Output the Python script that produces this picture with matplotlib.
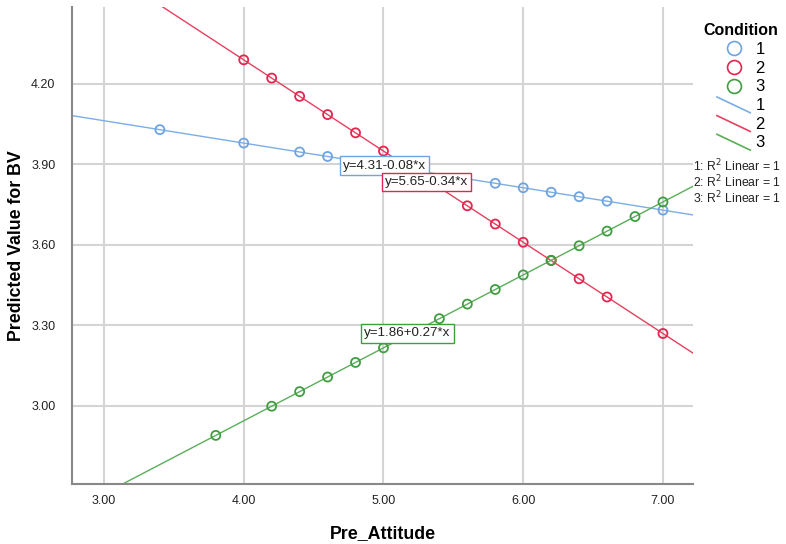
import numpy as np
import matplotlib
matplotlib.use("Agg")
import matplotlib.pyplot as plt
from matplotlib.lines import Line2D
from matplotlib.legend_handler import HandlerLine2D

plt.rcParams['font.family'] = ['Liberation Sans', 'DejaVu Sans']

# Dati
conditions = ["1", "2", "3"]
x_cond1 = [3.4, 4.0, 4.4, 4.6, 5.8, 6.0, 6.2, 6.4, 6.6, 7.0]
x_cond2 = [4.0, 4.2, 4.4, 4.6, 4.8, 5.0, 5.6, 5.8, 6.0, 6.2, 6.4, 6.6, 7.0]
x_cond3 = [3.8, 4.2, 4.4, 4.6, 4.8, 5.0, 5.4, 5.6, 5.8, 6.0, 6.2, 6.4, 6.6, 6.8, 7.0]
intercepts = [4.313, 5.65, 1.857]
slopes = [-0.0833, -0.34, 0.2719]
eq_labels = ["y=4.31-0.08*x", "y=5.65-0.34*x", "y=1.86+0.27*x"]
label_pos = [(4.71, 3.895), (5.01, 3.835), (4.86, 3.27)]
xticks = [3.0, 4.0, 5.0, 6.0, 7.0]
yticks = [3.00, 3.30, 3.60, 3.90, 4.20]

colors = ["#6fa4e0", "#e3264f", "#3f9e3f"]
line_colors = ["#7aaee6", "#e6405f", "#5aae5a"]


class DiagonalHandler(HandlerLine2D):
    def create_artists(self, legend, orig_handle, xdescent, ydescent,
                       width, height, fontsize, trans):
        line = Line2D([-xdescent, width - xdescent],
                      [height - ydescent + 1, -ydescent - 2],
                      color=orig_handle.get_color(), lw=1.2)
        line.set_transform(trans)
        return [line]


fig = plt.figure(figsize=(7.86, 5.44), dpi=100)
ax = fig.add_axes([72 / 786, 1 - 484 / 544, 621 / 786, 477 / 544])

xmin, xmax = 2.771, 7.215
ax.set_xlim(xmin, xmax)
ax.set_ylim(2.709, 4.487)

xs_all = [x_cond1, x_cond2, x_cond3]
xx = np.array([xmin, xmax])
for i in range(3):
    xs = np.array(xs_all[i])
    ys = intercepts[i] + slopes[i] * xs
    ax.plot(xx, intercepts[i] + slopes[i] * xx, color=line_colors[i], lw=1.0, zorder=2)
    ax.scatter(xs, ys, s=42, facecolors="none", edgecolors=colors[i],
               linewidths=1.3, zorder=3)

for i in range(3):
    ax.text(label_pos[i][0], label_pos[i][1], eq_labels[i], fontsize=9.6,
            color="#222222", ha="left", va="center", zorder=5,
            bbox=dict(boxstyle="square,pad=0.25", facecolor="white",
                      edgecolor=colors[i], linewidth=1.0))

ax.set_xticks(xticks)
ax.set_xticklabels([f"{v:.2f}" for v in xticks])
ax.set_yticks(yticks)
ax.set_yticklabels([f"{v:.2f}" for v in yticks])
ax.tick_params(length=0, labelsize=9, colors="#222222")
ax.tick_params(axis="x", pad=8)
ax.tick_params(axis="y", pad=12)
ax.grid(True, color="#d4d4d4", lw=1.5)
ax.set_axisbelow(True)
for s in ["top", "right"]:
    ax.spines[s].set_visible(False)
for s in ["left", "bottom"]:
    ax.spines[s].set_color("#888888")
    ax.spines[s].set_linewidth(1.5)

ax.set_xlabel("Pre_Attitude", fontsize=12.8, fontweight="bold", labelpad=13)
ax.set_ylabel("Predicted Value for BV", fontsize=12.8, fontweight="bold")
ax.yaxis.set_label_coords(-0.076, 0.5)

# Legenda
handles = []
labels = []
for i in range(3):
    handles.append(Line2D([], [], ls="none", marker="o", ms=10, mfc="none",
                          mec=colors[i], mew=1.2))
    labels.append(conditions[i])
line_handles = []
for i in range(3):
    h = Line2D([], [], color=line_colors[i])
    line_handles.append(h)
    handles.append(h)
    labels.append(conditions[i])

hmap = {h: DiagonalHandler() for h in line_handles}
leg = fig.legend(handles, labels, loc="upper left", bbox_to_anchor=(695 / 786, 1 - 15 / 544),
                 frameon=False, fontsize=12, title="Condition",
                 title_fontproperties={"weight": "bold", "size": 11.5},
                 handlelength=2.0, handletextpad=0.3, labelspacing=0.22,
                 borderpad=0, handler_map=hmap)
leg._legend_box.align = "center"

for i in range(3):
    fig.text(693 / 786, 1 - (166 + 16 * i) / 544,
             f"{conditions[i]}: R$^2$ Linear = 1", fontsize=8.8,
             ha="left", va="center", color="#222222")

plt.savefig("out.png", dpi=100)
